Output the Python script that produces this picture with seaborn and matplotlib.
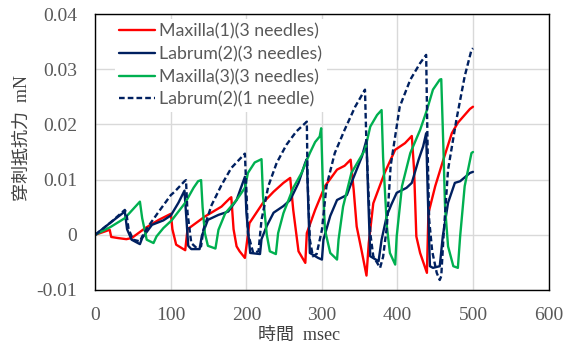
import pandas as pd
import seaborn as sns
import matplotlib.pyplot as plt

# Maxilla(1)(3 needles)
red_t = [0, 19, 21, 30, 41, 48, 66, 84, 100, 102, 107, 119, 122, 145, 167, 178, 180,
         183, 187, 191, 198, 204, 222, 236, 249, 258, 262, 269, 278, 280, 291, 304, 320,
         330, 338, 342, 346, 353, 359, 362, 368, 383, 397, 410, 419, 422, 425, 430, 439,
         441, 450, 461, 472, 480, 496, 500]
red_v = [0, 0.0009, -0.0004, -0.0006, -0.0008, -0.0006, 0.0012, 0.0027, 0.0038, 0.0010,
         -0.0018, -0.0028, 0.0010, 0.0033, 0.0051, 0.0066, 0.0068, 0.0010, -0.0021, -0.0030,
         -0.0042, 0.0021, 0.0058, 0.0078, 0.0094, 0.0103, 0.0045, -0.0030, -0.0051, 0.0003,
         0.0045, 0.0088, 0.0118, 0.0125, 0.0136, 0.0082, 0.0015, -0.0032, -0.0074, -0.0015,
         0.0057, 0.0112, 0.0154, 0.0166, 0.0179, 0.0118, -0.0003, -0.0033, -0.0069, 0.0039,
         0.0088, 0.0137, 0.0184, 0.0203, 0.0228, 0.0232]

# Labrum(2)(3 needles)
navy_t = [0, 20, 39, 42, 48, 59, 62, 75, 90, 100, 110, 118, 120, 123, 127, 138, 141, 149,
          163, 176, 187, 198, 200, 205, 218, 220, 227, 236, 249, 258, 269, 278, 280, 282,
          284, 295, 300, 302, 311, 320, 333, 339, 353, 359, 361, 364, 375, 379, 386, 392,
          399, 412, 419, 428, 434, 438, 440, 443, 447, 456, 460, 467, 476, 483, 496, 500]
navy_v = [0, 0.0022, 0.0042, 0.0010, -0.0009, -0.0017, -0.0006, 0.0018, 0.0026, 0.0035,
          0.0058, 0.0080, 0.0040, -0.0020, -0.0026, -0.0026, -0.0002, 0.0027, 0.0036, 0.0042,
          0.0063, 0.0105, 0.0040, -0.0033, -0.0035, -0.0008, 0.0016, 0.0040, 0.0052, 0.0063,
          0.0094, 0.0131, 0.0137, 0.0050, -0.0033, -0.0042, -0.0045, -0.0009, 0.0034, 0.0063,
          0.0072, 0.0094, 0.0142, 0.0172, 0.0080, -0.0039, -0.0048, -0.0009, 0.0035, 0.0055,
          0.0076, 0.0085, 0.0094, 0.0136, 0.0160, 0.0184, 0.0080, -0.0057, -0.0060, -0.0057,
          -0.0003, 0.0058, 0.0094, 0.0097, 0.0112, 0.0114]

# Maxilla(3)(3 needles)
green_t = [0, 20, 39, 59, 62, 68, 77, 81, 90, 101, 119, 130, 136, 140, 142, 145, 149, 159,
           163, 172, 187, 198, 202, 211, 220, 222, 227, 231, 239, 242, 249, 262, 273, 284,
           291, 297, 299, 301, 304, 311, 320, 322, 328, 339, 357, 364, 373, 379, 381, 386,
           390, 397, 399, 406, 417, 430, 439, 447, 456, 458, 461, 463, 467, 474, 480, 483,
           489, 498, 500]
green_v = [0, 0.0014, 0.0030, 0.0060, 0.0030, -0.0009, -0.0015, -0.0003, 0.0012, 0.0026,
           0.0058, 0.0085, 0.0097, 0.0099, 0.0050, 0.0003, -0.0020, -0.0025, 0.0009, 0.0039,
           0.0063, 0.0085, 0.0112, 0.0131, 0.0137, 0.0070, 0.0000, -0.0030, -0.0035, 0.0003,
           0.0039, 0.0085, 0.0112, 0.0148, 0.0168, 0.0178, 0.0193, 0.0100, 0.0009, -0.0033,
           -0.0045, -0.0009, 0.0051, 0.0112, 0.0154, 0.0196, 0.0217, 0.0226, 0.0140, 0.0015,
           -0.0033, -0.0054, -0.0003, 0.0088, 0.0148, 0.0190, 0.0226, 0.0263, 0.0281, 0.0282,
           0.0150, 0.0051, -0.0021, -0.0057, -0.0060, -0.0003, 0.0088, 0.0148, 0.0150]

# Labrum(2)(1 needle)
dash_t = [0, 20, 39, 41, 44, 50, 59, 62, 70, 84, 100, 105, 118, 120, 122, 127, 134, 140,
          143, 154, 167, 180, 198, 200, 202, 209, 216, 220, 229, 240, 253, 266, 280, 281,
          284, 288, 293, 300, 306, 317, 330, 344, 357, 359, 364, 368, 377, 381, 386, 391,
          403, 417, 430, 438, 440, 442, 446, 452, 456, 458, 461, 467, 478, 489, 498, 500]
dash_v = [0, 0.0022, 0.0045, 0.0040, 0.0010, -0.0009, -0.0012, -0.0003, 0.0015, 0.0042,
          0.0072, 0.0078, 0.0097, 0.0099, 0.0040, -0.0015, -0.0024, -0.0021, 0.0009, 0.0054,
          0.0090, 0.0121, 0.0147, 0.0080, 0.0003, -0.0033, -0.0030, 0.0027, 0.0088, 0.0130,
          0.0163, 0.0187, 0.0205, 0.0100, -0.0009, -0.0039, -0.0035, 0.0009, 0.0088, 0.0148,
          0.0190, 0.0232, 0.0263, 0.0160, 0.0003, -0.0039, -0.0060, -0.0040, 0.0015, 0.0125,
          0.0232, 0.0281, 0.0311, 0.0326, 0.0150, 0.0027, -0.0030, -0.0069, -0.0082, -0.0075,
          -0.0003, 0.0118, 0.0208, 0.0287, 0.0335, 0.0338]

series = [
    ("Maxilla(1)(3 needles)", red_t, red_v, "#FF0000", "-"),
    ("Labrum(2)(3 needles)", navy_t, navy_v, "#002060", "-"),
    ("Maxilla(3)(3 needles)", green_t, green_v, "#00B050", "-"),
    ("Labrum(2)(1 needle)", dash_t, dash_v, "#002060", "--"),
]

sns.set_theme(style="whitegrid")
plt.rcParams["font.family"] = ["Liberation Serif", "Noto Sans CJK JP", "DejaVu Sans"]

fig = plt.figure(figsize=(5.71, 3.51), dpi=100)
ax = fig.add_axes([0.167, 0.174, 0.7936, 0.786])

for name, t, v, color, ls in series:
    df = pd.DataFrame({"t": t, "v": v})
    sns.lineplot(data=df, x="t", y="v", ax=ax, color=color, sort=False,
                 estimator=None, linewidth=1.7, label=name)
    if ls == "--":
        ax.lines[-1].set_dashes([2.4, 1.3])

ax.set_xlim(0, 600)
ax.set_ylim(-0.01, 0.04)
ax.set_xticks(range(0, 601, 100))
ax.set_yticks([-0.01, 0, 0.01, 0.02, 0.03, 0.04])
ax.set_yticklabels(["-0.01", "0", "0.01", "0.02", "0.03", "0.04"])
ax.grid(True, color="#D9D9D9", linewidth=1.0)
ax.set_facecolor("white")
for s in ax.spines.values():
    s.set_color("black")
    s.set_linewidth(1.0)
ax.tick_params(axis="both", length=0, labelsize=14, labelcolor="#595959",
               labelfontfamily="Liberation Serif")
ax.tick_params(axis="x", pad=12)
ax.tick_params(axis="y", pad=13)

ax.set_xlabel("時間  msec", fontsize=13, color="#404040")
ax.set_ylabel("穿刺抵抗力  mN", fontsize=13, color="#404040")
ax.xaxis.set_label_coords(0.45, -0.135)
ax.yaxis.set_label_coords(-0.142, 0.55)

leg = ax.legend(loc="upper left", bbox_to_anchor=(0.043, 0.982), frameon=True,
                facecolor="white", edgecolor="none", framealpha=1, fancybox=False,
                prop={"family": "Lato", "size": 12.8}, handlelength=2.0,
                handletextpad=0.25, labelspacing=0.37, borderpad=0.25,
                borderaxespad=0.0)
for txt in leg.get_texts():
    txt.set_color("#595959")

fig.savefig("out.png", dpi=100)
